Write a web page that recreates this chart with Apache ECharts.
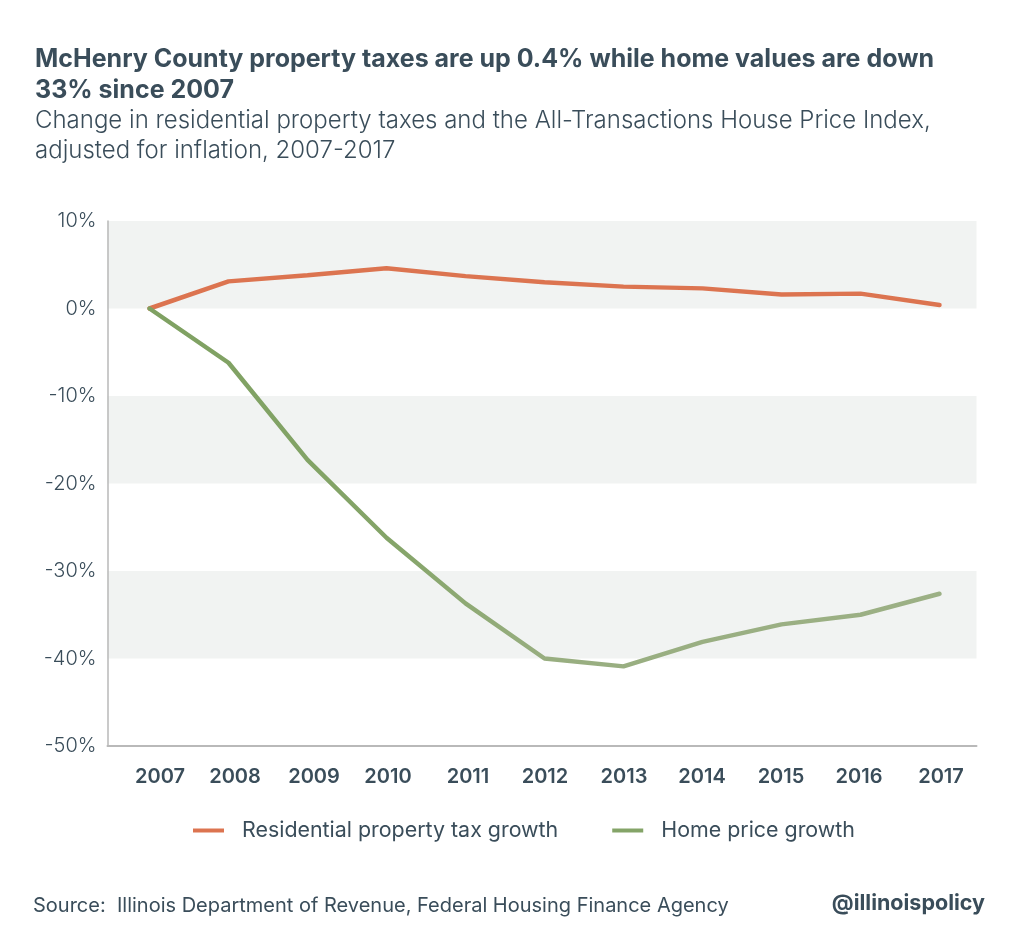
<!DOCTYPE html>
<html>
<head>
<meta charset="utf-8">
<style>
  html, body { margin: 0; padding: 0; background: #fff; }
  #chart { width: 1024px; height: 942px; }
</style>
<script src="https://cdn.jsdelivr.net/npm/echarts@6/dist/echarts.min.js"></script>
</head>
<body>
<div id="chart"></div>
<script>
const years = ['2007', '2008', '2009', '2010', '2011', '2012', '2013', '2014', '2015', '2016', '2017'];
const taxGrowth = [0, 3.1, 3.8, 4.6, 3.7, 3.0, 2.5, 2.3, 1.6, 1.7, 0.4];
const homeGrowth = [0, -6.2, -17.3, -26.2, -33.7, -40, -40.9, -38.1, -36.1, -35, -32.6];

const textDark = '#3a4d5a';
const fontName = 'Inter';

// the year labels sit a little off their points in the original
const yearShift = [13, 9, 9, 4, 5, 3, 3, 2, 2, 1, 4];
const yearRich = {};
years.forEach((y, i) => {
    yearRich['y' + i] = {
        color: textDark,
        fontFamily: fontName,
        fontSize: 20,
        fontWeight: 600,
        padding: [0, 0, 0, yearShift[i] * 2],
    };
});

const myChart = echarts.init(document.getElementById('chart'), null, { renderer: 'canvas' });

// the home price line fades after 2011 in the original
const homeLineColor = new echarts.graphic.LinearGradient(0, 0, 1, 0, [
    { offset: 0, color: '#7fa162' },
    { offset: 0.3, color: '#84a468' },
    { offset: 0.5, color: '#98ae80' },
    { offset: 1, color: '#9cb085' },
]);

const option = {
    backgroundColor: '#fff',
    animation: false,
    title: [
        {
            text: 'McHenry County property taxes are up 0.4% while home values are down\n33% since 2007',
            left: 30,
            top: 39,
            textStyle: { color: textDark, fontFamily: fontName, fontSize: 25, fontWeight: 700, lineHeight: 31 },
        },
        {
            text: 'Change in residential property taxes and the All-Transactions House Price Index,\nadjusted for inflation, 2007-2017',
            left: 30,
            top: 101,
            textStyle: { color: textDark, fontFamily: fontName, fontSize: 24, fontWeight: 300, lineHeight: 30 },
        },
        {
            text: 'Source:  Illinois Department of Revenue, Federal Housing Finance Agency',
            left: 28,
            top: 891,
            textStyle: { color: textDark, fontFamily: fontName, fontSize: 20, fontWeight: 400 },
        },
        {
            text: '@illinoispolicy',
            right: 34,
            top: 888,
            textStyle: { color: textDark, fontFamily: fontName, fontSize: 21.5, fontWeight: 700 },
        },
    ],
    legend: {
        top: 815,
        left: 188,
        itemGap: 54,
        itemWidth: 31,
        itemHeight: 4,
        icon: 'rect',
        textStyle: { color: textDark, fontFamily: fontName, fontSize: 21.4, fontWeight: 400, padding: [0, 0, 0, 13] },
        data: ['Residential property tax growth', 'Home price growth'],
    },
    grid: [
        { left: 107.5, width: 869, top: 221, height: 525 },
        // same height, only used to place the lines where the original has them
        { left: 110, width: 869, top: 221, height: 525 },
    ],
    xAxis: [
        {
            type: 'category',
            gridIndex: 0,
            data: years,
            axisTick: { show: false },
            axisLine: { onZero: false, lineStyle: { color: '#b9b9b9', width: 2 } },
            axisLabel: {
                margin: 21,
                interval: 0,
                formatter: (value, i) => `{y${i}|${value}}`,
                rich: yearRich,
            },
        },
        { type: 'category', gridIndex: 1, data: years, show: false },
    ],
    yAxis: [
        {
            type: 'value',
            gridIndex: 0,
            min: -50,
            max: 10,
            interval: 10,
            axisTick: { show: false },
            axisLine: { show: true, onZero: false, lineStyle: { color: '#b9b9b9', width: 1.5 } },
            axisLabel: {
                margin: 11,
                color: textDark,
                fontFamily: fontName,
                fontSize: 20,
                fontWeight: 300,
                formatter: '{value}%',
            },
            splitLine: { show: false },
            splitArea: { show: true, areaStyle: { color: ['#ffffff', '#f1f3f2'] } },
        },
        { type: 'value', gridIndex: 1, min: -50, max: 10, interval: 10, show: false },
    ],
    series: [
        {
            name: 'Residential property tax growth',
            type: 'line',
            xAxisIndex: 1,
            yAxisIndex: 1,
            data: taxGrowth,
            symbol: 'none',
            lineStyle: { color: '#dc7450', width: 4.5, cap: 'round' },
            itemStyle: { color: '#dc7450' },
        },
        {
            name: 'Home price growth',
            type: 'line',
            xAxisIndex: 1,
            yAxisIndex: 1,
            data: homeGrowth,
            symbol: 'none',
            lineStyle: { color: homeLineColor, width: 4.5, cap: 'round' },
            itemStyle: { color: '#84a468' },
        },
    ],
};

myChart.setOption(option);
</script>
</body>
</html>
